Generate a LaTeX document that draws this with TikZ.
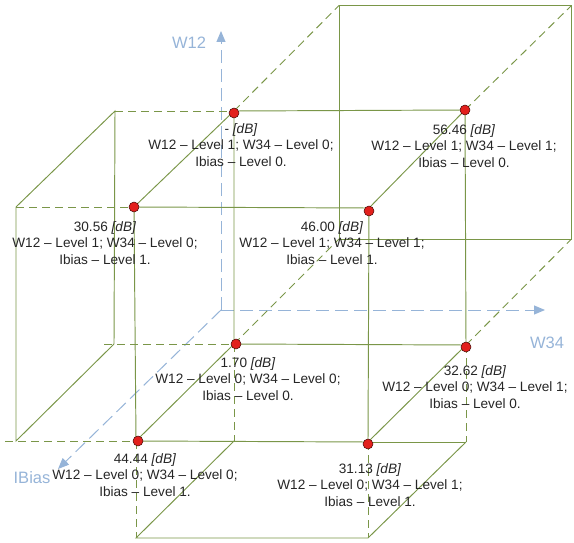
\documentclass[tikz,border=0pt]{standalone}
\usepackage{fontspec}
\setmainfont{Liberation Sans}
\usetikzlibrary{arrows.meta}
\definecolor{edgegreen}{RGB}{122,150,72}
\definecolor{axisblue}{RGB}{150,180,216}
\definecolor{dotred}{RGB}{226,32,28}
\tikzset{
 edge/.style={draw=edgegreen, line width=0.95pt},
 hidden/.style={edge, dash pattern=on 8pt off 5pt},
 axisline/.style={draw=axisblue, line width=1pt, dash pattern=on 13pt off 6pt, -{Triangle[length=11pt,width=9pt]}},
 reddot/.style={circle, fill=dotred, draw=black!70!dotred, line width=0.5pt, minimum size=10pt, inner sep=0pt},
 lab/.style={align=center, font=\fontsize{13.6}{16.5}\selectfont, text=black!85, inner sep=0pt},
 axlab/.style={text=axisblue, font=\fontsize{16.5}{20}\selectfont, inner sep=0pt}
}
\begin{document}
\begin{tikzpicture}[x=1pt,y=-1pt]
\useasboundingbox (0,0) rectangle (574,543);
% main cube
\coordinate (A) at (234,111);
\coordinate (B) at (465,110);
\coordinate (E) at (234,344);
\coordinate (F) at (466,345);
\coordinate (C) at (134,207);
\coordinate (D) at (369,208);
\coordinate (G) at (136,441);
\coordinate (H) at (368,442);
% left box
\coordinate (L1) at (115,111);
\coordinate (L2) at (114,344);
\coordinate (L3) at (16,207);
\coordinate (L4) at (16,441);
\coordinate (L2x) at (104,344);
\coordinate (L4x) at (5,441);
% bottom box
\coordinate (Eb) at (234,441);
\coordinate (Fb) at (466,442);
\coordinate (Gb) at (136,538);
\coordinate (Hb) at (368,538);
% back box
\coordinate (A2) at (339,5.5);
\coordinate (B2) at (571.5,5.5);
\coordinate (E2) at (339,239);
\coordinate (F2) at (571.5,239);
% axes
\coordinate (O) at (221,310);
\coordinate (W12tip) at (221,31);
\coordinate (W34tip) at (545,310);
\coordinate (IBtip) at (58,469);

% axes
\draw[axisline] (O) -- (W12tip);
\draw[axisline] (O) -- (W34tip);
\draw[axisline] (O) -- (IBtip);
\node[axlab] (tW12) at (189,43) {W12};
\node[axlab] (tW34) at (547,343) {W34};
\node[axlab] (tIB) at (32,478) {IBias};

% back box
\draw[edge] (A2) -- (B2) -- (F2) -- (E2) -- cycle;
\draw[hidden] (A) -- (A2);
\draw[hidden] (B) -- (B2);
\draw[hidden] (E) -- (E2);
\draw[hidden] (F) -- (F2);

% left box
\draw[hidden] (L1) -- (A);
\draw[hidden] (L3) -- (C);
\draw[edge] (L3) -- (L1) -- (L2);
\draw[edge] (L3) -- (L4) -- (L2);
\draw[hidden] (L2x) -- (E);
\draw[hidden] (L4x) -- (G);

% bottom box
\draw[hidden] (E) -- (Eb);
\draw[hidden] (F) -- (Fb);
\draw[hidden] (G) -- (Gb);
\draw[hidden] (H) -- (Hb);
\draw[edge] (Eb) -- (Gb) -- (Hb) -- (Fb);
\draw[edge] (H) -- (Fb);

% main cube
\draw[edge] (A) -- (B) -- (F) -- (E) -- cycle;
\draw[edge] (C) -- (D) -- (H) -- (G) -- cycle;
\draw[edge] (A) -- (C);
\draw[edge] (B) -- (D);
\draw[edge] (E) -- (G);
\draw[edge] (F) -- (H);

% labels
\node[lab] (lA) at (241,145) {- \textit{[dB]}\\W12 – Level 1; W34 – Level 0;\\Ibias – Level 0.};
\node[lab] (lB) at (464,146) {56.46 \textit{[dB]}\\W12 – Level 1; W34 – Level 1;\\Ibias – Level 0.};
\node[lab] (lC) at (105,243) {30.56 \textit{[dB]}\\W12 – Level 1; W34 – Level 0;\\Ibias – Level 1.};
\node[lab] (lD) at (332,243) {46.00 \textit{[dB]}\\W12 – Level 1; W34 – Level 1;\\Ibias – Level 1.};
\node[lab] (lE) at (248,379) {1.70 \textit{[dB]}\\W12 – Level 0; W34 – Level 0;\\Ibias – Level 0.};
\node[lab] (lF) at (475,387) {32.62 \textit{[dB]}\\W12 – Level 0; W34 – Level 1;\\Ibias – Level 0.};
\node[lab] (lG) at (145,475) {44.44 \textit{[dB]}\\W12 – Level 0; W34 – Level 0;\\Ibias – Level 1.};
\node[lab] (lH) at (370,485) {31.13 \textit{[dB]}\\W12 – Level 0; W34 – Level 1;\\Ibias – Level 1.};

% dots
\node[reddot] (dA) at (234,113) {};
\node[reddot] (dB) at (465,110) {};
\node[reddot] (dC) at (134,207) {};
\node[reddot] (dD) at (369,211) {};
\node[reddot] (dE) at (236,344) {};
\node[reddot] (dF) at (466,347) {};
\node[reddot] (dG) at (138,441) {};
\node[reddot] (dH) at (368,444) {};
\end{tikzpicture}
\end{document}
